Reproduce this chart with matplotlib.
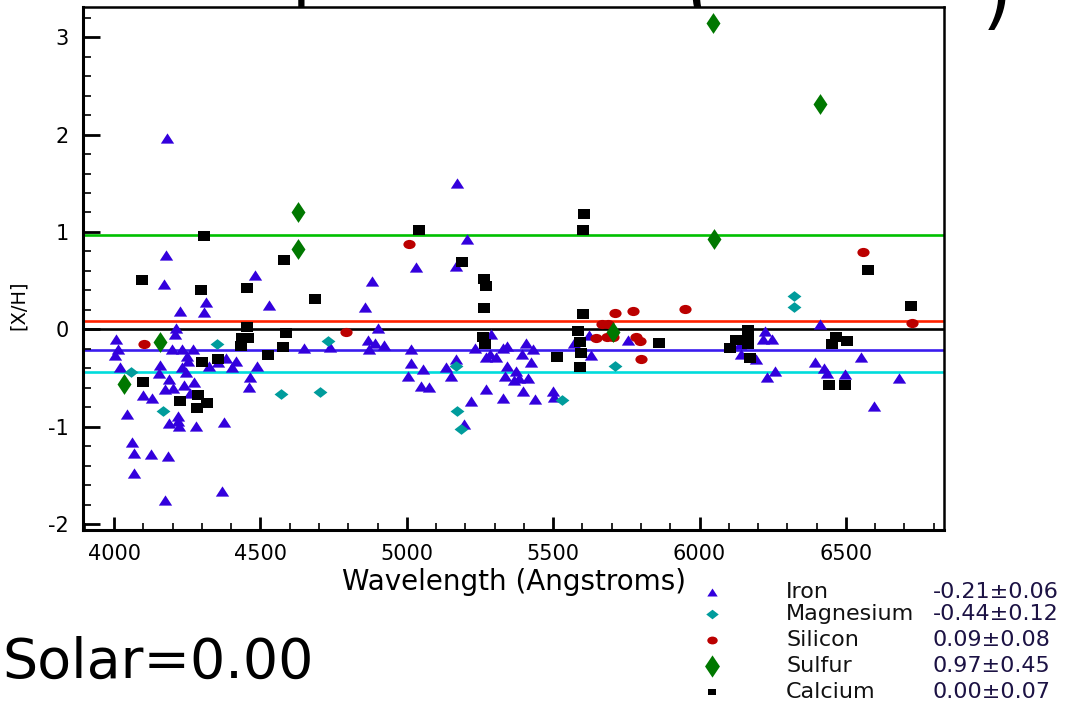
import matplotlib
matplotlib.use('Agg')
import matplotlib.pyplot as plt
from matplotlib.path import Path
from matplotlib.transforms import Affine2D
from matplotlib.ticker import MultipleLocator

plt.rcParams['axes.unicode_minus'] = False

# element summary (mean [X/H] and error), shown as lines and in the key
elements = ['Iron', 'Magnesium', 'Silicon', 'Sulfur', 'Calcium']
means = [-0.21, -0.44, 0.09, 0.97, 0.00]
errors = [0.06, 0.12, 0.08, 0.45, 0.07]

# per-line abundances
fe_wl = [4177, 4172, 4482, 4530, 4224, 4314, 4308, 4211, 4207, 4008, 4013, 4003,
         4197, 4233, 4270, 4249, 4252, 4020, 4156, 4154, 4233, 4247, 4324, 4354,
         4384, 4416, 4404, 4488, 4188, 4174, 4202, 4238, 4272, 4258, 4099, 4131,
         4463, 4461, 4044, 4220, 4218, 4222, 4188, 4281, 4377, 4062, 4069, 4126,
         4185, 4067, 4174, 4370, 4181,
         4880, 4858, 4900, 4868, 4890, 4871, 4922, 4649, 4738,
         5013, 5016, 5004, 5054, 5049, 5077, 5134, 5150, 5168, 5234, 5286, 5270,
         5305, 5270, 5218, 5195, 5170, 5207, 5031, 5168,
         5284, 5327, 5343, 5407, 5432, 5393, 5425, 5341, 5334, 5373, 5366, 5384,
         5414, 5398, 5437, 5330, 5498, 5503, 5571, 5621, 5628, 5757,
         6413, 6222, 6217, 6249, 6138, 6143, 6192, 6231, 6257, 6395, 6425, 6434,
         6498, 6550, 6682, 6596]
fe_xh = [0.76, 0.47, 0.56, 0.25, 0.19, 0.28, 0.18, 0.01, -0.05, -0.10, -0.20, -0.26,
         -0.20, -0.20, -0.20, -0.27, -0.32, -0.39, -0.37, -0.45, -0.39, -0.44, -0.38, -0.34,
         -0.29, -0.32, -0.39, -0.38, -0.51, -0.61, -0.60, -0.57, -0.54, -0.65, -0.67, -0.70,
         -0.49, -0.59, -0.87, -0.89, -0.94, -0.99, -0.96, -0.99, -0.95, -1.16, -1.27, -1.28,
         -1.30, -1.47, -1.75, -1.66, 1.97,
         0.50, 0.23, 0.01, -0.11, -0.14, -0.20, -0.16, -0.19, -0.18,
         -0.20, -0.35, -0.48, -0.41, -0.58, -0.59, -0.39, -0.48, -0.30, -0.19, -0.05, -0.28,
         -0.28, -0.61, -0.74, -0.97, 1.50, 0.93, 0.64, 0.65,
         -0.25, -0.19, -0.17, -0.14, -0.20, -0.25, -0.34, -0.38, -0.48, -0.43, -0.52, -0.50,
         -0.50, -0.63, -0.71, -0.70, -0.63, -0.69, -0.14, -0.06, -0.26, -0.11,
         0.06, -0.02, -0.10, -0.10, -0.15, -0.25, -0.30, -0.49, -0.43, -0.33, -0.40, -0.45,
         -0.46, -0.28, -0.50, -0.79]

mg_wl = [4352, 4059, 4167, 4571, 4730, 4704, 5168, 5172, 5184, 5530, 5712, 6322, 6322]
mg_xh = [-0.15, -0.44, -0.84, -0.66, -0.12, -0.64, -0.38, -0.84, -1.02, -0.73, -0.38, 0.34, 0.23]

si_wl = [4102, 4792, 5007, 5710, 5773, 5667, 5689, 5646, 5685, 5705, 5783, 5796,
         5800, 5950, 6557, 6724]
si_xh = [-0.15, -0.03, 0.88, 0.17, 0.19, 0.06, 0.06, -0.09, -0.08, -0.08, -0.08, -0.12,
         -0.30, 0.21, 0.79, 0.07]

s_wl = [4033, 4157, 4629, 4629, 5703, 6045, 6048, 6411]
s_xh = [-0.56, -0.13, 1.21, 0.83, -0.03, 3.15, 0.93, 2.31]

ca_wl = [4307, 4097, 4298, 4455, 4455, 4436, 4457, 4434, 4582, 4586, 4578, 4527,
         4302, 4355, 4098, 4288, 4318, 4226, 4283, 4685, 5043, 5190, 5264, 5270,
         5264, 5261, 5267, 5605, 5601, 5603, 5585, 5592, 5596, 5592, 5514, 5860,
         6167, 6166, 6124, 6166, 6104, 6172, 6466, 6454, 6502, 6443, 6497, 6575, 6721]
ca_xh = [0.96, 0.51, 0.40, 0.42, 0.02, -0.09, -0.09, -0.17, 0.71, -0.04, -0.18, -0.26,
         -0.33, -0.30, -0.54, -0.67, -0.76, -0.74, -0.81, 0.31, 1.02, 0.69, 0.52, 0.45,
         0.22, -0.08, -0.15, 1.18, 1.02, 0.16, -0.02, -0.13, -0.24, -0.39, -0.28, -0.14,
         -0.01, -0.08, -0.11, -0.15, -0.19, -0.29, -0.08, -0.15, -0.12, -0.57, -0.57, 0.61, 0.24]


def poly(pts):
    return Path(pts + [pts[0]], closed=True)


# the source image is stretched sideways, so the markers are a bit wide
tri_m = poly([(-0.65, -0.5), (0.65, -0.5), (0.0, 0.5)])
mgd_m = poly([(-1.3, 0), (0, -1), (1.3, 0), (0, 1)])
ell_m = Affine2D().scale(1.33, 1.0).transform_path(Path.unit_circle())
sd_m = poly([(-0.67, 0), (0, -1), (0.67, 0), (0, 1)])
sq_m = poly([(-0.6, -0.5), (0.6, -0.5), (0.6, 0.5), (-0.6, 0.5)])

series = [(fe_wl, fe_xh), (mg_wl, mg_xh), (si_wl, si_xh), (s_wl, s_xh), (ca_wl, ca_xh)]
markers = [tri_m, mgd_m, ell_m, sd_m, sq_m]
colors = ['#3300dd', '#009c9c', '#bb0000', '#007800', '#000000']
line_colors = ['#3a1cee', '#00dcdc', '#ff2200', '#00c000', '#000000']
sizes = [9.6, 10, 8.8, 15, 8.0]
key_sizes = [7.5, 9, 7.5, 16, 6]

fig = plt.figure(figsize=(10.73, 7.05), dpi=100)
ax = fig.add_axes([83 / 1073, 1 - 530 / 705, 861 / 1073, 523 / 705])

for m, c in zip(means, line_colors):
    ax.axhline(m, color=c, lw=1.9, zorder=1)

for (wl, xh), mk, c, ms in zip(series, markers, colors, sizes):
    ax.plot(wl, xh, ls='none', marker=mk, ms=ms, color=c, mew=0, zorder=3)

ax.set_xlim(3894, 6835)
ax.set_ylim(-2.06, 3.31)
ax.set_xticks(range(4000, 6501, 500))
ax.xaxis.set_minor_locator(MultipleLocator(100))
ax.set_yticks(range(-2, 4))
ax.yaxis.set_minor_locator(MultipleLocator(0.2))
ax.tick_params(axis='x', which='major', direction='in', length=9.5, width=2,
               labelsize=15, pad=10, top=False)
ax.tick_params(axis='x', which='minor', direction='in', length=5, width=1.2, top=False)
ax.tick_params(axis='y', which='major', direction='in', length=12, width=2,
               labelsize=15, pad=10, right=False)
ax.tick_params(axis='y', which='minor', direction='in', length=6, width=1.2, right=False)
for side in ['left', 'bottom']:
    ax.spines[side].set_linewidth(2.2)
for side in ['top', 'right']:
    ax.spines[side].set_linewidth(1.8)

ax.set_xlabel('Wavelength (Angstroms)', fontsize=20)
ax.xaxis.set_label_coords(0.5, -0.072)
ax.set_ylabel('[X/H]', fontsize=14)
ax.yaxis.set_label_coords(-0.064, 0.43)

# bottom of a slide title that is cut off at the top of the image
fig.text(292 / 1073, 1 + 1 / 705, 'p', fontsize=50, ha='left', va='baseline', zorder=-1)
for s, xp in [('(', 700), (')', 997)]:
    fig.text(xp / 1073, 1 - 20 / 705, s, fontsize=56, ha='center', va='baseline', zorder=-1)

# key and note, laid out in pixel units
lax = fig.add_axes([0, 0, 1, 1])
lax.set_xlim(0, 1073)
lax.set_ylim(705, 0)
lax.axis('off')
rows = [592, 614, 640, 666, 692]
for y, name, m, e, mk, c, ms in zip(rows, elements, means, errors, markers, colors, key_sizes):
    lax.plot([712], [y], ls='none', marker=mk, ms=ms, color=c, mew=0)
    lax.text(786, y, name, fontsize=16, va='center', ha='left', color='#111111')
    lax.text(933, y, f'{m:.2f}\u00b1{e:.2f}', fontsize=16, va='center', ha='left',
             color='#1c1244')

lax.text(2, 663, 'Solar=0.00', fontsize=40, va='center', ha='left')

fig.savefig('out.png', dpi=100)
